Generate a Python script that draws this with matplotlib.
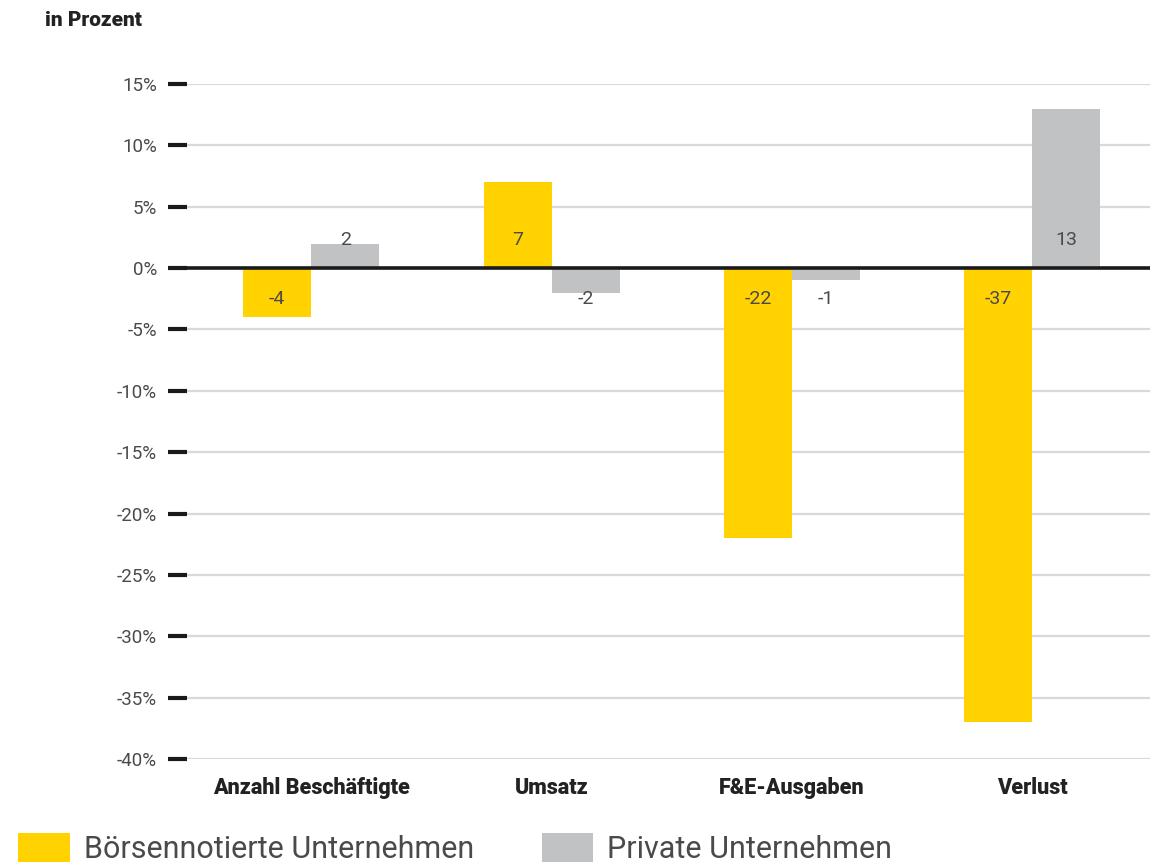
import matplotlib
matplotlib.use("Agg")
import matplotlib.pyplot as plt
import numpy as np

categories = ["Anzahl Beschäftigte", "Umsatz", "F&E-Ausgaben", "Verlust"]
listed = [-4, 7, -22, -37]
private = [2, -2, -1, 13]
series_names = ["Börsennotierte Unternehmen", "Private Unternehmen"]
yticks = [15, 10, 5, 0, -5, -10, -15, -20, -25, -30, -35, -40]

YELLOW = "#FFD200"
GREY = "#C1C2C4"
TEXT = "#4a4a4a"

plt.rcParams["font.family"] = ["Roboto", "DejaVu Sans"]

fig = plt.figure(figsize=(11.53, 8.66), dpi=100)
ax = fig.add_axes([168 / 1153, 1 - 759 / 866, (1150 - 168) / 1153, (759 - 84) / 866])

x = np.arange(len(categories))
w = 0.283
b1 = ax.bar(x - w / 2, listed, w, color=YELLOW, zorder=2, label=series_names[0])
b2 = ax.bar(x + w / 2, private, w, color=GREY, zorder=2, label=series_names[1])

for bars, vals in ((b1, listed), (b2, private)):
    for rect, v in zip(bars, vals):
        cx = rect.get_x() + rect.get_width() / 2
        off = 20 if v > 0 else -22
        ax.annotate(f"{v}", (cx, 0), xytext=(0, off), textcoords="offset points",
                    ha="center", va="center", fontsize=14, color=TEXT, zorder=4)

ax.axhline(0, color="#1a1a1a", lw=2.6, zorder=3)

ax.set_xlim(-0.596, 3.49)
ax.set_ylim(-40, 15)
ax.set_yticks(yticks)
ax.set_yticklabels([f"{t}%" for t in yticks], fontsize=13.5, color=TEXT)
ax.yaxis.grid(True, color="#d9d9d9", lw=1.6, zorder=0)
ax.tick_params(axis="y", direction="in", length=14, width=3, color="#1a1a1a", pad=8)
for s in ax.spines.values():
    s.set_visible(False)

ax.set_xticks(x)
ax.set_xticklabels(categories, fontsize=15.5, fontweight="heavy", color="#222222")
ax.tick_params(axis="x", length=0, pad=13)

fig.text(45 / 1153, 1 - 20 / 866, "in Prozent", fontsize=15, fontweight="heavy",
         color="#222222", va="center", ha="left")

fig.legend(handles=[b1, b2], labels=series_names, loc="lower left",
           bbox_to_anchor=(0.0, -0.019), ncol=2, frameon=False, fontsize=22,
           handlelength=1.7, handleheight=1.1, handletextpad=0.45, columnspacing=2.2,
           labelcolor=TEXT, borderaxespad=0.2)

fig.savefig("out.png", dpi=100)
